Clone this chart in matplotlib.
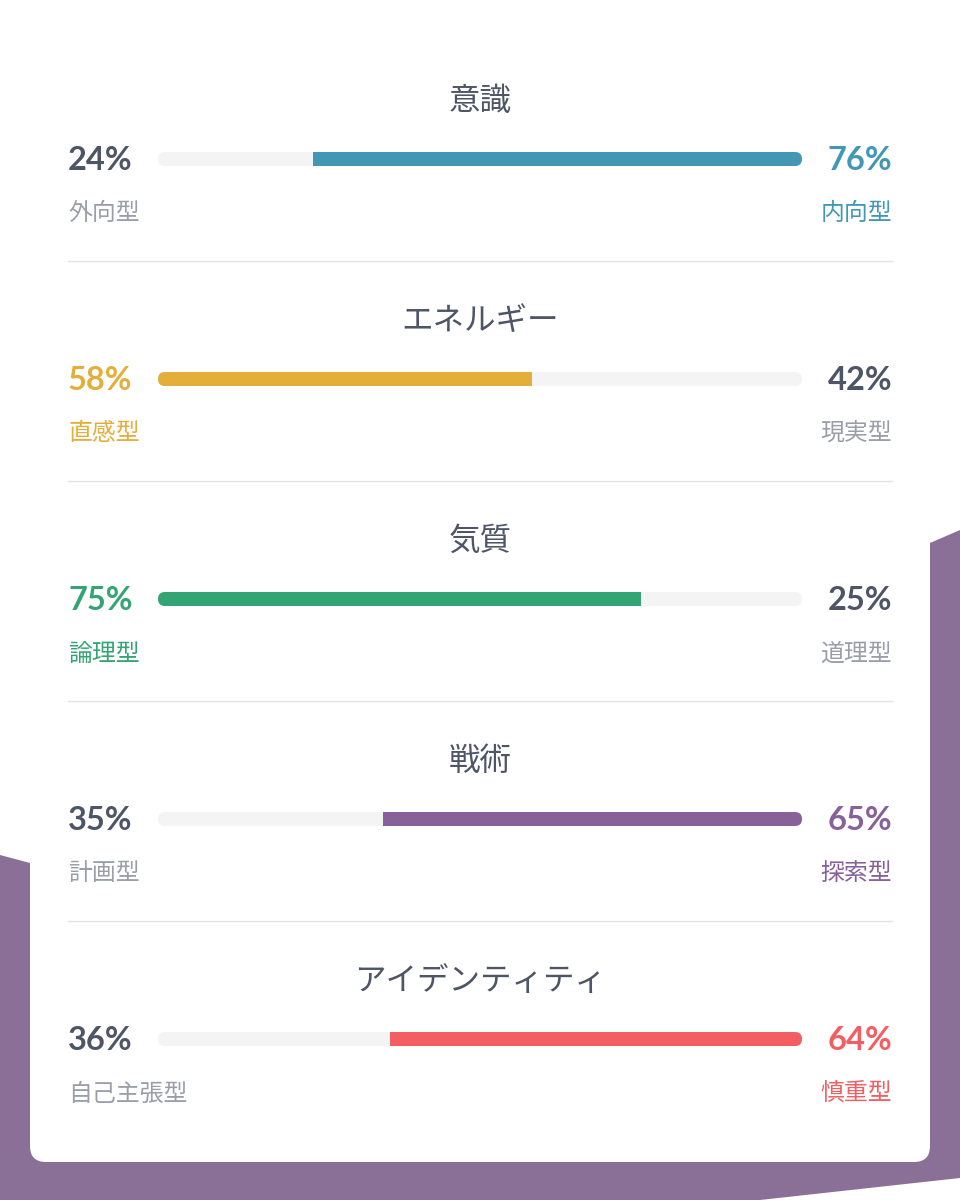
import matplotlib
matplotlib.use('Agg')
import matplotlib.pyplot as plt
from matplotlib.patches import Polygon, FancyBboxPatch

# Data
titles = ['意識', 'エネルギー', '気質', '戦術', 'アイデンティティ']
left_pct = [24, 58, 75, 35, 36]
right_pct = [76, 42, 25, 65, 64]
left_labels = ['外向型', '直感型', '論理型', '計画型', '自己主張型']
right_labels = ['内向型', '現実型', '道理型', '探索型', '慎重型']
colors = ['#4298b4', '#e4ae3a', '#33a474', '#88619a', '#f25e62']
dominant = ['right', 'left', 'left', 'right', 'right']

DARK = '#4d5566'
GRAY = '#9a9ea8'
TRACK = '#f4f4f4'
PURPLE = '#8a7097'

jp = ['Noto Sans CJK JP', 'DejaVu Sans']
num = ['Lato', 'Noto Sans CJK JP', 'DejaVu Sans']

fig = plt.figure(figsize=(9.6, 12), dpi=100)
ax = fig.add_axes([0, 0, 1, 1])
ax.set_xlim(0, 960)
ax.set_ylim(1200, 0)
ax.axis('off')

# background shape
ax.add_patch(Polygon([(0, 855), (30, 863), (930, 543), (960, 530),
                      (960, 1178), (760, 1200), (0, 1200)],
                     closed=True, facecolor=PURPLE, edgecolor='none', zorder=0))
# card
ax.add_patch(FancyBboxPatch((30, -40), 900, 1202, boxstyle='round,pad=0,rounding_size=16',
                            facecolor='white', edgecolor='none', zorder=1))

x0, x1 = 158, 802
bar_h = 14
for i in range(len(titles)):
    yc = 159 + 220 * i
    ax.text(480, yc - 58, titles[i], ha='center', va='center', fontsize=22.7,
            color=DARK, family=jp, zorder=3)
    # track
    ax.add_patch(FancyBboxPatch((x0, yc - bar_h / 2), x1 - x0, bar_h,
                                boxstyle='round,pad=0,rounding_size=7',
                                facecolor=TRACK, edgecolor='none', zorder=2))
    w = (x1 - x0)
    if dominant[i] == 'left':
        xe = x0 + w * left_pct[i] / 100
        ax.add_patch(FancyBboxPatch((x0, yc - bar_h / 2), 14, bar_h,
                                    boxstyle='round,pad=0,rounding_size=7',
                                    facecolor=colors[i], edgecolor='none', zorder=3))
        ax.barh(yc, xe - x0 - 7, left=x0 + 7, height=bar_h, color=colors[i], zorder=3)
        lc, rc = colors[i], DARK
        llc, rlc = colors[i], GRAY
    else:
        xs = x1 - w * right_pct[i] / 100
        ax.add_patch(FancyBboxPatch((x1 - 14, yc - bar_h / 2), 14, bar_h,
                                    boxstyle='round,pad=0,rounding_size=7',
                                    facecolor=colors[i], edgecolor='none', zorder=3))
        ax.barh(yc, x1 - 7 - xs, left=xs, height=bar_h, color=colors[i], zorder=3)
        lc, rc = DARK, colors[i]
        llc, rlc = GRAY, colors[i]
    ax.text(68, yc + 1, f'{left_pct[i]}%', ha='left', va='center', fontsize=23.5,
            fontweight='bold', color=lc, family=num, zorder=3)
    ax.text(892, yc + 1, f'{right_pct[i]}%', ha='right', va='center', fontsize=23.5,
            fontweight='bold', color=rc, family=num, zorder=3)
    ax.text(68, yc + 55, left_labels[i], ha='left', va='center', fontsize=17.2,
            color=llc, family=jp, zorder=3)
    ax.text(892, yc + 55, right_labels[i], ha='right', va='center', fontsize=17.2,
            color=rlc, family=jp, zorder=3)
    if i < len(titles) - 1:
        ax.plot([68, 892], [yc + 102, yc + 102], color='#e3e3e6', lw=1, zorder=2)

fig.savefig('out.png', dpi=100)
